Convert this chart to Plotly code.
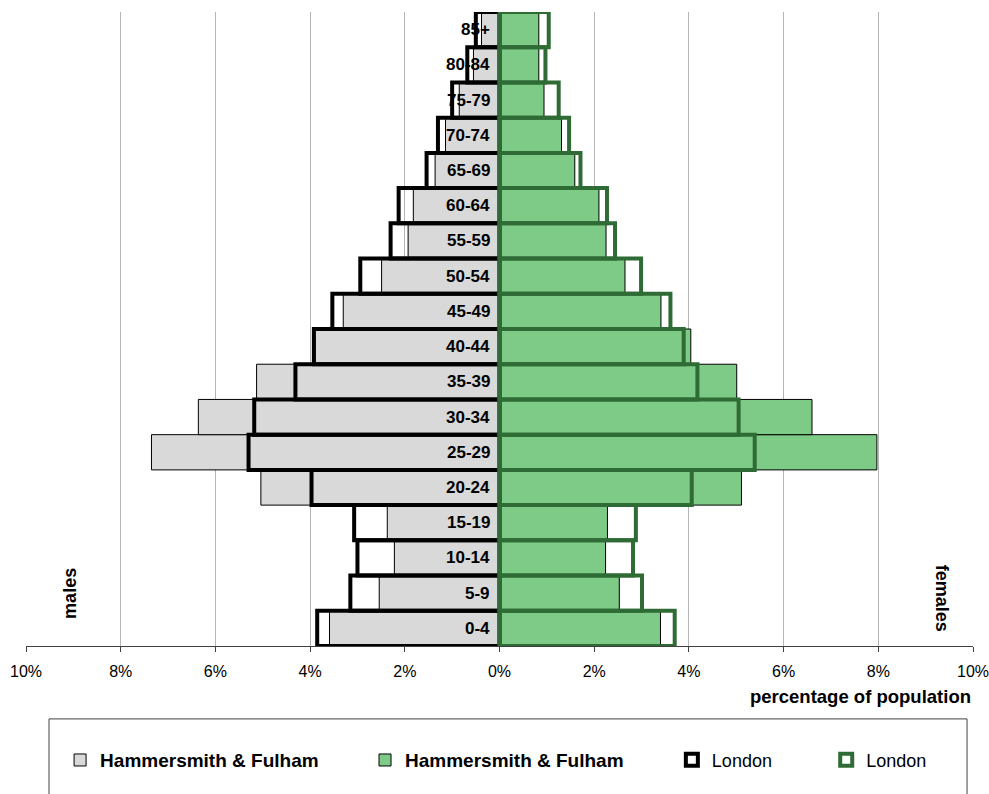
import plotly.graph_objects as go

# ---- data (percent of population) ----
age_groups = ["0-4", "5-9", "10-14", "15-19", "20-24", "25-29", "30-34", "35-39",
              "40-44", "45-49", "50-54", "55-59", "60-64", "65-69", "70-74",
              "75-79", "80-84", "85+"]
hf_males = [3.59, 2.54, 2.22, 2.37, 5.04, 7.35, 6.36, 5.13, 3.90, 3.30, 2.49,
            1.93, 1.82, 1.36, 1.14, 0.85, 0.55, 0.38]
hf_females = [3.40, 2.53, 2.24, 2.28, 5.11, 7.97, 6.60, 5.01, 4.04, 3.41, 2.65,
              2.25, 2.10, 1.59, 1.31, 0.94, 0.83, 0.83]
london_males = [3.85, 3.15, 3.00, 3.07, 3.97, 5.30, 5.18, 4.31, 3.92, 3.53, 2.94,
                2.30, 2.13, 1.54, 1.30, 1.00, 0.68, 0.50]
london_females = [3.70, 3.01, 2.82, 2.88, 4.06, 5.39, 5.05, 4.18, 3.89, 3.61, 2.99,
                  2.44, 2.27, 1.71, 1.47, 1.25, 0.97, 1.04]
tick_values = [-10, -8, -6, -4, -2, 0, 2, 4, 6, 8, 10]
tick_labels = ["10%", "8%", "6%", "4%", "2%", "0%", "2%", "4%", "6%", "8%", "10%"]

GREY = "#d9d9d9"
GREEN = "#7dcb87"
DKGREEN = "#2f6b34"
FONT = "Liberation Sans, Arial, sans-serif"

fig = go.Figure()
fig.add_trace(go.Bar(y=age_groups, x=[-v for v in hf_males], orientation="h",
                     name="Hammersmith & Fulham", width=1,
                     marker=dict(color=GREY, line=dict(color="black", width=1)),
                     legend="legend", hoverinfo="skip"))
fig.add_trace(go.Bar(y=age_groups, x=hf_females, orientation="h",
                     name="Hammersmith & Fulham", width=1,
                     marker=dict(color=GREEN, line=dict(color="black", width=1)),
                     legend="legend2", hoverinfo="skip"))
fig.add_trace(go.Bar(y=age_groups, x=[-v for v in london_males], orientation="h",
                     name="London", width=1,
                     marker=dict(color="rgba(255,255,255,0)", line=dict(color="black", width=4)),
                     legend="legend3", hoverinfo="skip"))
fig.add_trace(go.Bar(y=age_groups, x=london_females, orientation="h",
                     name="London", width=1,
                     marker=dict(color="rgba(255,255,255,0)", line=dict(color=DKGREEN, width=4)),
                     legend="legend4", hoverinfo="skip"))

# age labels in the middle
for g in age_groups:
    fig.add_annotation(x=-0.16, y=g, text="<b>%s</b>" % g, showarrow=False,
                       xanchor="right", yanchor="middle",
                       font=dict(family=FONT, size=17, color="black"))

fig.add_annotation(xref="paper", yref="paper", x=0.047, y=0.083, text="<b>males</b>",
                   textangle=-90, showarrow=False, xanchor="center", yanchor="middle",
                   font=dict(family=FONT, size=18, color="black"))
fig.add_annotation(xref="paper", yref="paper", x=0.967, y=0.075, text="<b>females</b>",
                   textangle=90, showarrow=False, xanchor="center", yanchor="middle",
                   font=dict(family=FONT, size=18, color="black"))
fig.add_annotation(xref="paper", yref="paper", x=1.0, y=-0.080,
                   text="<b>percentage of population</b>", showarrow=False,
                   xanchor="right", yanchor="middle",
                   font=dict(family=FONT, size=18.5, color="black"))

# legend frame
fig.add_shape(type="rect", xref="paper", yref="paper", x0=0.0243, x1=0.9937,
              y0=-0.115, y1=-0.26, line=dict(color="#404040", width=1), fillcolor="rgba(0,0,0,0)")

leg_common = dict(orientation="h", yanchor="middle", y=-0.180, xanchor="left",
                  bgcolor="rgba(0,0,0,0)", borderwidth=0, itemwidth=30)
fig.update_layout(
    barmode="overlay",
    width=989, height=794,
    margin=dict(l=26, r=16, t=12, b=148, autoexpand=False),
    paper_bgcolor="white", plot_bgcolor="white",
    xaxis=dict(range=[-10, 10], tickvals=tick_values, ticktext=tick_labels,
               showgrid=True, gridcolor="#b5b5b5", gridwidth=1, zeroline=False,
               showline=True, linecolor="#404040", linewidth=1,
               ticks="outside", ticklen=5, tickcolor="#404040",
               ticklabeloverflow="allow", automargin=False, ticklabelstandoff=6,
               tickfont=dict(family=FONT, size=16, color="black")),
    yaxis=dict(range=[-0.5, 17.5], showticklabels=False, showgrid=False,
               zeroline=False, showline=False, ticks=""),
    legend=dict(x=0.036, font=dict(family=FONT, size=19, color="black", weight="bold"), **leg_common),
    legend2=dict(x=0.358, font=dict(family=FONT, size=19, color="black", weight="bold"), **leg_common),
    legend3=dict(x=0.682, font=dict(family=FONT, size=18, color="black"), **leg_common),
    legend4=dict(x=0.845, font=dict(family=FONT, size=18, color="black"), **leg_common),
    showlegend=True,
)

fig.write_html("out.html", config={"displayModeBar": False},
               post_script="document.body.style.margin='0px';")
